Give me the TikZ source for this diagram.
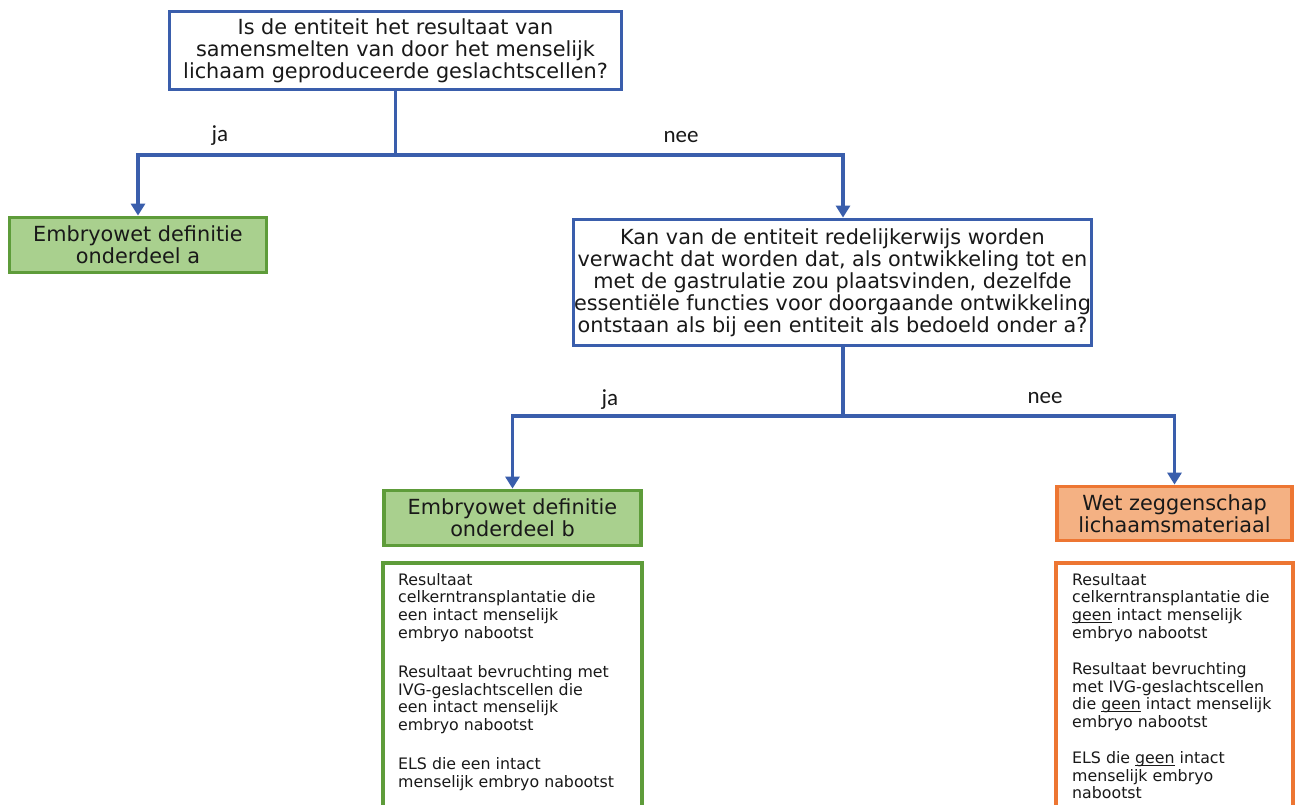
\documentclass[tikz,border=0pt]{standalone}
\usepackage{fontspec}
\setmainfont{DejaVu Sans}
\newfontfamily\labelfont{Carlito}
\usetikzlibrary{arrows.meta,calc}
\definecolor{qblue}{RGB}{58,94,172}
\definecolor{ggreen}{RGB}{94,156,58}
\definecolor{gfill}{RGB}{169,208,142}
\definecolor{oorange}{RGB}{237,118,50}
\definecolor{ofill}{RGB}{244,177,131}
\definecolor{txt}{RGB}{25,25,25}
\newcommand\myul[1]{\setbox0\hbox{#1}\rlap{\rule[-2.6pt]{\wd0}{0.9pt}}\box0\relax}
\tikzset{
  boxbase/.style={line width=3.8pt, align=center, inner sep=0pt, text=txt,
    font=\fontsize{20.8}{22}\selectfont},
  qbox/.style={boxbase, draw=qblue, fill=white},
  gbox/.style={boxbase, draw=ggreen, fill=gfill},
  obox/.style={boxbase, draw=oorange, fill=ofill},
  listtext/.style={align=left, inner sep=0pt, anchor=north west, text=txt,
    font=\fontsize{15.8}{17.7}\selectfont},
  conn/.style={draw=qblue, line width=3.8pt},
  arr/.style={conn, -{Triangle[width=14pt,length=12pt]}},
  lbl/.style={font=\labelfont\fontsize{23}{25}\selectfont, text=txt, inner sep=0pt}
}
\begin{document}
\begin{tikzpicture}[x=1pt,y=-1pt]
\useasboundingbox (0,0) rectangle (1299,805);
\begin{scope}
\clip (0,0) rectangle (1299,805);
\fill[white] (0,0) rectangle (1299,805);

\node[qbox, minimum width=452pt, minimum height=78pt] (q1) at (395.5,50.5)
  {Is de entiteit het resultaat van\\samensmelten van door het menselijk\\lichaam geproduceerde geslachtscellen?};
\node[gbox, minimum width=257pt, minimum height=55pt] (a) at (138,245)
  {Embryowet definitie\\onderdeel a};
\node[qbox, minimum width=518pt, minimum height=126pt] (q2) at (832.5,282.5)
  {Kan van de entiteit redelijkerwijs worden\\verwacht dat worden dat, als ontwikkeling tot en\\met de gastrulatie zou plaatsvinden, dezelfde\\essentiële functies voor doorgaande ontwikkeling\\ontstaan als bij een entiteit als bedoeld onder a?};
\node[gbox, minimum width=257pt, minimum height=55pt] (b) at (512.5,518)
  {Embryowet definitie\\onderdeel b};
\node[obox, minimum width=235pt, minimum height=54pt] (o) at (1174.5,513.5)
  {Wet zeggenschap\\lichaamsmateriaal};

\draw[ggreen, line width=3.8pt, fill=white] (383,563) rectangle (642,830);
\draw[oorange, line width=3.8pt, fill=white] (1056,563) rectangle (1293,830);

\node[listtext] (lb) at (398,573)
  {Resultaat\\celkerntransplantatie die\\een intact menselijk\\embryo nabootst\\[21.3pt]Resultaat bevruchting met\\IVG-geslachtscellen die\\een intact menselijk\\embryo nabootst\\[21.3pt]ELS die een intact\\menselijk embryo nabootst};
\node[listtext] (lo) at (1072,573)
  {Resultaat\\celkerntransplantatie die\\\myul{geen} intact menselijk\\embryo nabootst\\[18.3pt]Resultaat bevruchting\\met IVG-geslachtscellen\\die \myul{geen} intact menselijk\\embryo nabootst\\[18.3pt]ELS die \myul{geen} intact\\menselijk embryo\\nabootst};

\coordinate (j1) at (395.5,155);
\coordinate (k1) at (843,155);
\coordinate (j2) at (843,416);
\draw[conn] (q1.south) -- (j1);
\draw[arr] (j1) -| (a.north);
\draw[arr] (j1) -- (k1) -- (k1 |- q2.north);
\draw[conn] (j2 |- q2.south) -- (j2);
\draw[arr] (j2) -| (b.north);
\draw[arr] (j2) -| (o.north);

\node[lbl] (ja1) at (220,136) {ja};
\node[lbl] (nee1) at (681,137) {nee};
\node[lbl] (ja2) at (610,400) {ja};
\node[lbl] (nee2) at (1045,398) {nee};
\end{scope}
\end{tikzpicture}
\end{document}
